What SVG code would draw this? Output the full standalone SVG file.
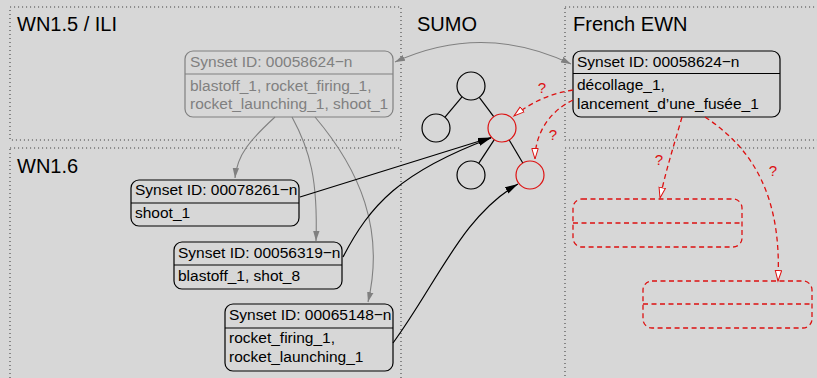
<svg xmlns="http://www.w3.org/2000/svg" width="817" height="378" viewBox="0 0 817 378">
<style>
.bg{fill:#d7d7d7}
.frame{fill:none;stroke:#444;stroke-width:1.1;stroke-dasharray:1.1 2.9}
.title{font-family:"Liberation Sans",Arial,sans-serif;font-size:20px;fill:#000}
.t{font-family:"Liberation Sans",Arial,sans-serif;font-size:15.5px;fill:#000}
.tg{font-family:"Liberation Sans",Arial,sans-serif;font-size:15.5px;fill:#808080}
.box{fill:none;stroke:#000;stroke-width:1.2}
.boxg{fill:none;stroke:#808080;stroke-width:1.2}
.boxr{fill:none;stroke:#dd1111;stroke-width:1.3;stroke-dasharray:5 3.5}
.c{fill:none;stroke:#000;stroke-width:1.2}
.cr{fill:none;stroke:#dd1111;stroke-width:1.2}
.e{stroke:#000;stroke-width:1.2}
.lk{fill:none;stroke:#000;stroke-width:1.2}
.lg{fill:none;stroke:#808080;stroke-width:1.1}
.lr{fill:none;stroke:#dd1111;stroke-width:1.3;stroke-dasharray:5 3.5}
.q{font-family:"Liberation Sans",Arial,sans-serif;font-size:15px;fill:#dd1111;text-anchor:middle}
</style>
<defs>
<marker id="ak" markerUnits="userSpaceOnUse" markerWidth="14" markerHeight="10" refX="13" refY="4" orient="auto"><path d="M0,0.5 L13,4 L0,7.5 z" fill="#000"/></marker>
<marker id="ag" markerUnits="userSpaceOnUse" markerWidth="12" markerHeight="10" refX="10" refY="4" orient="auto-start-reverse"><path d="M0,0.8 L10,4 L0,7.2 z" fill="#808080"/></marker>
<marker id="ar" markerUnits="userSpaceOnUse" markerWidth="14" markerHeight="10" refX="11" refY="4" orient="auto"><path d="M0.5,0.8 L11,4 L0.5,7.2 z" fill="#fff" stroke="#dd1111" stroke-width="1"/></marker>
</defs>
<rect class="bg" x="0" y="0" width="817" height="378"/>
<g id="frames">
<rect class="frame" x="10" y="7" width="391" height="133"/>
<rect class="frame" x="10" y="148" width="391" height="240"/>
<rect class="frame" x="565" y="7" width="270" height="133"/>
<rect class="frame" x="565" y="148" width="270" height="240"/>
<text class="title" x="17" y="31">WN1.5 / ILI</text>
<text class="title" x="17" y="172.5">WN1.6</text>
<text class="title" x="417" y="31">SUMO</text>
<text class="title" x="573" y="31">French EWN</text>
</g>
<g id="sumo">
<line class="e" x1="462" y1="96.8" x2="445" y2="117.2"/>
<line class="e" x1="479.3" y1="97.3" x2="493.7" y2="116.7"/>
<line class="e" x1="494.3" y1="139.7" x2="478.7" y2="163.3"/>
<line class="e" x1="509.2" y1="140" x2="522.8" y2="163"/>
<circle class="c" cx="471" cy="86" r="14"/>
<circle class="c" cx="436" cy="128" r="14"/>
<circle class="cr" cx="502" cy="128" r="14"/>
<circle class="c" cx="471" cy="175" r="14"/>
<circle class="cr" cx="530" cy="175" r="14"/>
</g>
<g id="ili">
<rect class="boxg" x="185" y="51" width="208" height="66" rx="8"/>
<line class="boxg" x1="185" y1="74" x2="393" y2="74"/>
<text class="tg" x="190" y="67">Synset ID: 00058624−n</text>
<text class="tg" x="190" y="90.5">blastoff_1, rocket_firing_1,</text>
<text class="tg" x="190" y="109">rocket_launching_1, shoot_1</text>
</g>
<g id="fr">
<rect class="box" x="573" y="51" width="207" height="66" rx="8"/>
<line class="box" x1="573" y1="73.5" x2="780" y2="73.5"/>
<text class="t" x="577" y="67">Synset ID: 00058624−n</text>
<text class="t" x="577" y="90">décollage_1,</text>
<text class="t" x="577" y="108.5">lancement_d’une_fusée_1</text>
</g>
<g id="n78261">
<rect class="box" x="131" y="180" width="168" height="46" rx="8"/>
<line class="box" x1="131" y1="203" x2="299" y2="203"/>
<text class="t" x="135" y="195">Synset ID: 00078261−n</text>
<text class="t" x="135" y="218.3">shoot_1</text>
</g>
<g id="n56319">
<rect class="box" x="174" y="242" width="168" height="47" rx="8"/>
<line class="box" x1="174" y1="265" x2="342" y2="265"/>
<text class="t" x="178" y="258.3">Synset ID: 00056319−n</text>
<text class="t" x="178" y="280.7">blastoff_1, shot_8</text>
</g>
<g id="n65148">
<rect class="box" x="225" y="304" width="168" height="67" rx="8"/>
<line class="box" x1="225" y1="328" x2="393" y2="328"/>
<text class="t" x="229" y="320">Synset ID: 00065148−n</text>
<text class="t" x="229" y="343.3">rocket_firing_1,</text>
<text class="t" x="229" y="361.7">rocket_launching_1</text>
</g>
<g id="newA">
<rect class="boxr" x="573" y="199" width="169" height="48" rx="9"/>
<line class="boxr" x1="573" y1="223" x2="742" y2="223"/>
</g>
<g id="newB">
<rect class="boxr" x="643" y="281" width="169" height="47" rx="9"/>
<line class="boxr" x1="643" y1="304" x2="812" y2="304"/>
</g>
<g id="connectors">
<path class="lg" d="M395,62 Q483,22 571,64" marker-start="url(#ag)" marker-end="url(#ag)"/>
<path class="lg" d="M275,117 C250,140 237,155 235,178" marker-end="url(#ag)"/>
<path class="lg" d="M292,117 C310,150 318,180 316,241" marker-end="url(#ag)"/>
<path class="lg" d="M315,117 C360,170 385,230 368,302" marker-end="url(#ag)"/>
<path class="lk" d="M300,197 L491,137.5" marker-end="url(#ak)"/>
<path class="lk" d="M343,257 C370,205 400,172 491,138" marker-end="url(#ak)"/>
<path class="lk" d="M393,343 C437,283 463,215 518,184" marker-end="url(#ak)"/>
<path class="lr" d="M573,90 Q540,95 514,116" marker-end="url(#ar)"/>
<path class="lr" d="M573,100 C548,112 535,135 535,159" marker-end="url(#ar)"/>
<path class="lr" d="M682,117 C674,145 666,170 660,198" marker-end="url(#ar)"/>
<path class="lr" d="M705,117 C752,148 782,195 778,281" marker-end="url(#ar)"/>
<text class="q" x="542" y="93">?</text>
<text class="q" x="553" y="140">?</text>
<text class="q" x="659" y="165">?</text>
<text class="q" x="773" y="176">?</text>
</g>
</svg>
